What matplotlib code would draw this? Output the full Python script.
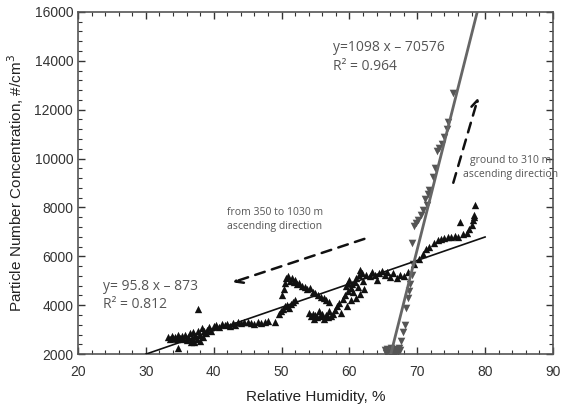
import matplotlib
matplotlib.use("Agg")
import matplotlib.pyplot as plt
import numpy as np
from matplotlib.ticker import MultipleLocator

# Black up-triangles: 350 to 1030 m ascending
up_x = [33.2,33.5,33.8,34.0,34.3,34.6,34.8,35.0,35.3,35.5,35.8,36.0,36.2,36.5,36.6,36.8,37.0,37.1,37.3,37.5,37.7,37.9,38.0,38.2,38.4,38.6,38.8,39.0,39.3,39.6,40.0,
        37.7,34.8,
        40.4,40.8,41.2,41.6,42.0,42.4,42.8,43.2,43.6,44.0,44.5,45.0,45.5,46.0,46.5,47.0,47.5,48.0,49.0,
        49.6,49.9,50.2,50.5,50.8,51.1,51.4,51.7,52.0,
        50.1,50.3,50.5,50.7,51.0,51.2,51.5,51.8,52.0,52.3,52.6,53.0,53.4,53.8,54.2,54.6,55.0,55.4,55.8,56.2,56.6,57.0,
        54.0,54.3,54.6,54.8,55.0,55.2,55.5,55.7,56.0,56.2,56.5,56.8,57.0,57.3,57.6,57.9,58.2,58.5,58.8,59.0,59.3,59.6,59.8,
        59.5,59.8,60.0,60.2,60.4,60.6,60.8,61.0,61.2,61.4,61.6,61.8,62.0,62.2,61.5,60.9,60.3,
        62.5,63.0,63.3,63.7,64.0,64.4,64.8,65.2,65.6,66.0,66.5,67.0,67.5,68.0,68.6,
        69.5,70.2,70.8,71.3,71.8,72.5,73.0,73.5,74.0,74.5,75.0,75.5,76.0,76.3,76.8,77.3,77.7,78.0,78.2,78.3,78.4,78.5]
up_y = [2700,2620,2760,2650,2720,2600,2780,2680,2750,2620,2800,2570,2700,2850,2500,2650,2900,2480,2750,2600,2950,2550,2800,3050,2700,2950,2850,3000,3100,2950,3150,
        3850,2250,
        3200,3120,3250,3180,3230,3150,3280,3200,3310,3260,3330,3300,3280,3240,3300,3280,3320,3350,3330,
        3650,3750,3850,3950,4000,3900,4050,4150,4200,
        4400,4650,4900,5100,5200,5000,5100,4950,5050,4850,4900,4800,4750,4650,4700,4550,4500,4420,4350,4280,4200,4150,
        3700,3550,3650,3450,3600,3500,3750,3550,3650,3450,3600,3500,3750,3550,3650,3800,3950,4100,3700,4250,4400,3950,4600,
        4800,4900,5050,4700,4850,4550,4950,5100,4750,5250,5450,5300,5000,4650,4450,4300,4200,
        5250,5200,5350,5250,5050,5300,5400,5250,5350,5150,5300,5100,5250,5200,5350,
        5700,5900,6100,6300,6400,6550,6650,6700,6750,6780,6800,6850,6800,7400,6900,6950,7100,7300,7500,7700,7600,8100]

# Grey down-triangles: ground to 310 m ascending
dn_x = [65.2,65.4,65.6,65.8,66.0,66.1,66.3,66.5,66.7,66.9,67.1,67.3,67.5,
        67.6,67.9,68.2,68.4,68.6,68.8,69.0,69.2,69.4,69.3,69.5,69.8,70.1,70.5,70.8,71.1,71.4,71.6,71.8,
        72.3,72.6,72.9,73.2,73.6,74.0,74.4,74.6,75.2]
dn_y = [2150,2050,2200,2100,2000,2250,2050,2150,2000,2200,2100,2250,2150,
        2550,2900,3200,3900,4300,4600,4850,5250,5700,6550,7250,7350,7500,7700,7900,8350,8100,8550,8700,
        9250,9600,10300,10450,10600,10900,11200,11500,12700]

fit1 = (95.8, -873)
fit1_range = [30, 80]
fit2 = (1098, -70576)
fit2_range = [65.5, 80]

plt.rcParams['font.family'] = ['Liberation Sans', 'DejaVu Sans']
fig = plt.figure(figsize=(5.7, 4.08), dpi=100)
ax = fig.add_axes([0.137, 0.132, 0.833, 0.839])

ax.scatter(up_x, up_y, marker='^', s=28, color='#111111', linewidths=0, zorder=3)
ax.scatter(dn_x, dn_y, marker='v', s=30, color='#555555', linewidths=0, zorder=3)

xx = np.array(fit1_range)
ax.plot(xx, fit1[0]*xx + fit1[1], color='#111111', lw=1.2, zorder=4)
xx2 = np.array(fit2_range)
ax.plot(xx2, fit2[0]*xx2 + fit2[1], color='#666666', lw=2.0, zorder=4)

ax.set_xlim(20, 90)
ax.set_ylim(2000, 16000)
ax.xaxis.set_major_locator(MultipleLocator(10))
ax.xaxis.set_minor_locator(MultipleLocator(2))
ax.yaxis.set_major_locator(MultipleLocator(2000))
ax.yaxis.set_minor_locator(MultipleLocator(400))
ax.tick_params(which='both', direction='in', top=True, right=True, labelsize=10, colors='#333333')
ax.tick_params(which='major', length=5, width=1)
ax.tick_params(which='minor', length=3, width=0.8)
ax.tick_params(axis='x', pad=8)
for s in ax.spines.values():
    s.set_color('#555555')
    s.set_linewidth(1.2)

ax.set_xlabel('Relative Humidity, %', fontsize=11, color='#222222', labelpad=8)
ax.set_ylabel('Particle Number Concentration, #/cm$^3$', fontsize=11, color='#222222', labelpad=6)

tcol = '#555555'
ax.text(57.6, 14150, 'y=1098 x \u2013 70576\nR\u00b2 = 0.964', fontsize=10, color=tcol,
        family=['Open Sans', 'DejaVu Sans'], va='center', linespacing=1.3)
ax.text(23.6, 4400, 'y= 95.8 x \u2013 873\nR\u00b2 = 0.812', fontsize=10, color=tcol,
        family=['Open Sans', 'DejaVu Sans'], va='center', linespacing=1.2)
ax.text(49.0, 7500, 'from 350 to 1030 m\nascending direction', fontsize=7.5, color=tcol,
        family=['Open Sans', 'DejaVu Sans'], ha='center', va='center', linespacing=1.35)
ax.text(83.8, 9640, 'ground to 310 m\nascending direction', fontsize=7.5, color=tcol,
        family=['Open Sans', 'DejaVu Sans'], ha='center', va='center', linespacing=1.35)

ax.annotate('', xy=(42.4, 4900), xytext=(62.6, 6750),
            arrowprops=dict(arrowstyle='->', linestyle=(0, (4, 3)), color='#111111', lw=1.8,
                            mutation_scale=14))
ax.annotate('', xy=(79.1, 12600), xytext=(75.2, 8900),
            arrowprops=dict(arrowstyle='->', linestyle=(0, (4, 3)), color='#111111', lw=1.8,
                            mutation_scale=14))

fig.savefig('out.png', dpi=100)
